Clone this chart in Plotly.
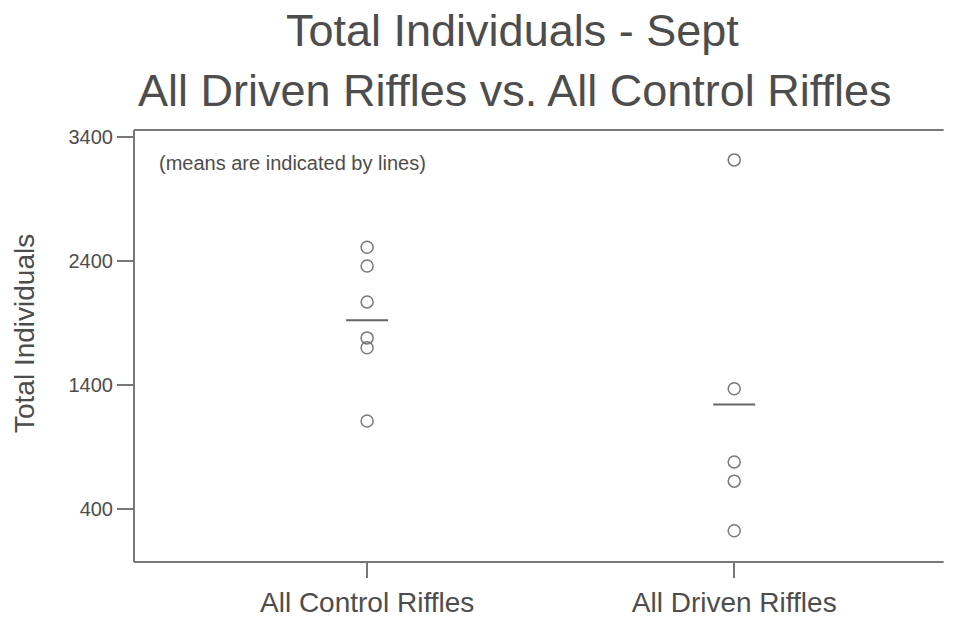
import numpy as np
import plotly.graph_objects as go

categories = ["All Control Riffles", "All Driven Riffles"]
control_values = [2510, 2360, 2070, 1780, 1700, 1110]
driven_values = [3215, 1370, 780, 625, 225]
y_ticks = [400, 1400, 2400, 3400]

FONT = "Liberation Sans, Arial, sans-serif"
TXT = "#4d4d4d"
LINE = "#777777"

series = [control_values, driven_values]

fig = go.Figure()
for i, vals in enumerate(series):
    fig.add_trace(go.Scatter(
        x=[i] * len(vals), y=vals, mode="markers",
        marker=dict(symbol="circle-open", size=12, color="#7a7a7a",
                    line=dict(width=1.5, color="#7a7a7a")),
        showlegend=False, hoverinfo="y"))
    fig.add_trace(go.Scatter(
        x=[i], y=[float(np.mean(vals))], mode="markers",
        marker=dict(symbol="line-ew-open", size=30, color="#666666",
                    line=dict(width=2, color="#666666")),
        showlegend=False, hoverinfo="y"))

axis_common = dict(showgrid=False, zeroline=False, showline=False,
                   automargin=False, ticks="outside", tickcolor=LINE,
                   tickwidth=1.5)

fig.update_layout(
    width=956, height=622,
    margin=dict(l=134, r=0, t=130, b=60, autoexpand=False),
    paper_bgcolor="white", plot_bgcolor="white",
    font=dict(family=FONT, color=TXT),
    xaxis=dict(range=[-0.635, 1.537], tickvals=[0, 1], ticktext=categories,
               domain=[0, 0.97],
               ticklen=15, tickfont=dict(size=28, color=TXT, family=FONT),
               **axis_common),
    yaxis=dict(range=[-27, 3456], tickvals=y_ticks, ticklen=16,
               tickfont=dict(size=20, color=TXT, family=FONT), **axis_common),
    shapes=[
        dict(type="line", xref="paper", yref="paper", x0=0, x1=0, y0=0, y1=1,
             line=dict(color=LINE, width=2)),
        dict(type="line", xref="paper", yref="paper", x0=0, x1=0.985, y0=1, y1=1,
             line=dict(color=LINE, width=2)),
        dict(type="line", xref="paper", yref="paper", x0=0, x1=0.985, y0=0, y1=0,
             line=dict(color=LINE, width=2)),
    ],
    annotations=[
        dict(text="Total Individuals - Sept", x=(512 - 134) / 822, xref="paper",
             y=(562 - 31) / 432, yref="paper", xanchor="center", yanchor="middle",
             showarrow=False, font=dict(size=45, color=TXT, family=FONT)),
        dict(text="All Driven Riffles vs. All Control Riffles", x=(515 - 134) / 822,
             xref="paper", y=(562 - 90) / 432, yref="paper", xanchor="center",
             yanchor="middle", showarrow=False,
             font=dict(size=45, color=TXT, family=FONT)),
        dict(text="Total Individuals", x=(24 - 134) / 822, xref="paper",
             y=(562 - 334) / 432, yref="paper", xanchor="center", yanchor="middle",
             textangle=-90, showarrow=False,
             font=dict(size=28, color=TXT, family=FONT)),
        dict(text="(means are indicated by lines)", x=(157 - 134) / 822, xref="paper",
             y=(562 - 163) / 432, yref="paper", xanchor="left", yanchor="middle",
             showarrow=False, font=dict(size=20, color=TXT, family=FONT)),
    ],
)

fig.write_html("out.html")
